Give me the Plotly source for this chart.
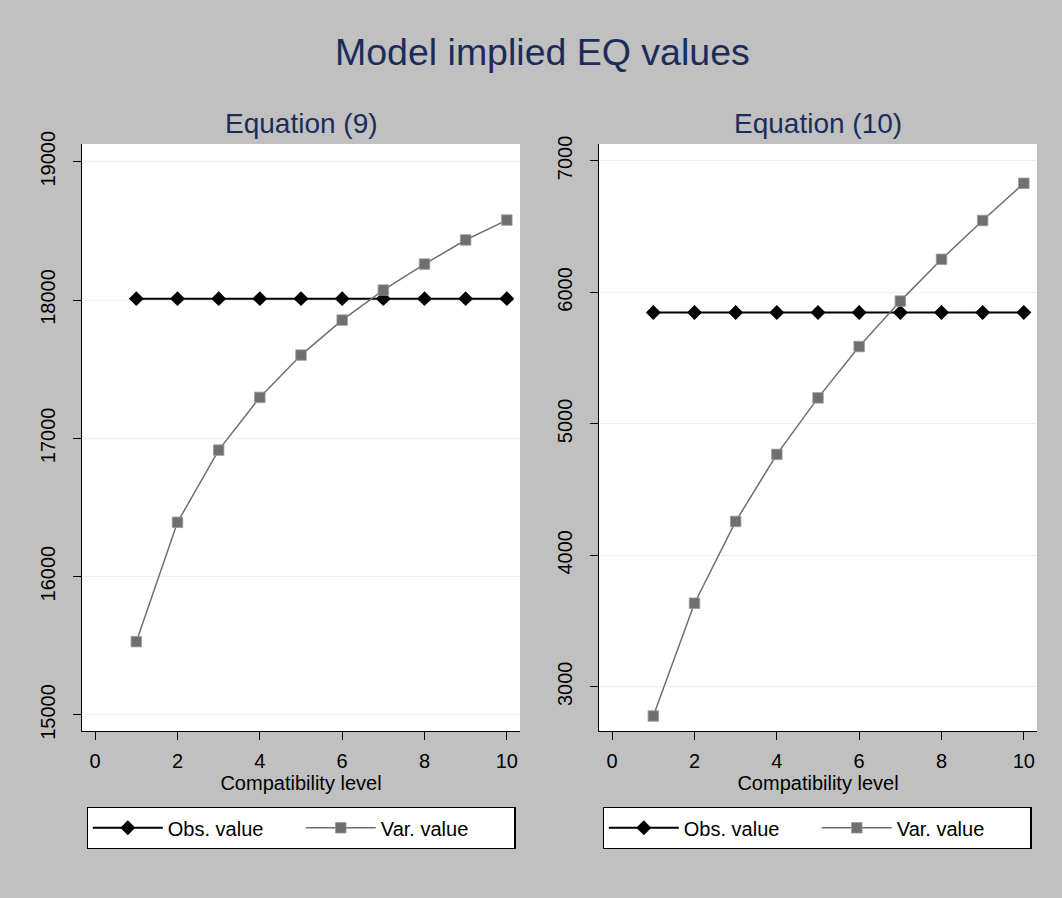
import plotly.graph_objects as go

# ---- data ----
levels = [1, 2, 3, 4, 5, 6, 7, 8, 9, 10]
obs_eq9 = [18010] * 10
var_eq9 = [15530, 16393, 16915, 17296, 17602, 17855, 18072, 18260, 18434, 18578]
obs_eq10 = [5847] * 10
var_eq10 = [2778, 3636, 4258, 4768, 5198, 5588, 5934, 6252, 6547, 6830]
x_ticks = [0, 2, 4, 6, 8, 10]
y_ticks_eq9 = [15000, 16000, 17000, 18000, 19000]
y_ticks_eq10 = [3000, 4000, 5000, 6000, 7000]
main_title = "Model implied EQ values"
sub_titles = ["Equation (9)", "Equation (10)"]
x_title = "Compatibility level"
legend_names = ["Obs. value", "Var. value"]

W, H = 1062, 898
FONT = "Liberation Sans, Arial, sans-serif"
NAVY = "#1c2c5a"
BG = "#c0c0c0"
GRID = "#e9f1f3"
VAR_C = "#6f6f6f"

def px(v):
    return v / W

def py(v):
    return 1 - v / H

fig = go.Figure()

panels = [
    dict(obs=obs_eq9, var=var_eq9, xa="x", ya="y", leg="legend"),
    dict(obs=obs_eq10, var=var_eq10, xa="x2", ya="y2", leg="legend2"),
]
for p in panels:
    fig.add_trace(go.Scatter(
        x=levels, y=p["obs"], xaxis=p["xa"], yaxis=p["ya"], mode="lines+markers",
        name=legend_names[0], legend=p["leg"],
        line=dict(color="black", width=2),
        marker=dict(symbol="diamond", size=11.5, color="black", line=dict(width=0)),
    ))
    fig.add_trace(go.Scatter(
        x=levels, y=p["var"], xaxis=p["xa"], yaxis=p["ya"], mode="lines+markers",
        name=legend_names[1], legend=p["leg"],
        line=dict(color=VAR_C, width=1.5),
        marker=dict(symbol="square", size=10.5, color=VAR_C, line=dict(width=0.8, color="#9a9a9a")),
    ))

xdom_l = [px(82), px(520)]
xdom_r = [px(599), px(1037)]
ydom = [py(731), py(144)]

axis_common = dict(
    showline=True, linecolor="black", linewidth=1.3, ticks="outside", ticklen=8,
    tickcolor="black", tickwidth=1.3, tickfont=dict(family=FONT, size=20, color="black"),
    zeroline=False, automargin=False,
)

x_common = dict(axis_common, range=[-0.32, 10.32], tickvals=x_ticks, showgrid=False,
                title=dict(text=x_title, font=dict(family=FONT, size=20, color="black"), standoff=2),
                ticklabelstandoff=4)
y_common = dict(axis_common, showgrid=True, gridcolor=GRID, gridwidth=1.2, tickangle=-90,
                ticklabelstandoff=10, tickformat="d")

legend_common = dict(orientation="h", xanchor="center", y=py(807), yanchor="top",
                     bgcolor="white", bordercolor="black", borderwidth=1.3,
                     font=dict(family=FONT, size=20, color="black"),
                     entrywidth=128, itemwidth=70)

fig.update_layout(
    width=W, height=H,
    margin=dict(l=0, r=0, t=0, b=0),
    paper_bgcolor=BG, plot_bgcolor="white",
    showlegend=True,
    xaxis=dict(x_common, domain=xdom_l, anchor="y"),
    yaxis=dict(y_common, domain=ydom, anchor="x", range=[14884, 19128], tickvals=y_ticks_eq9),
    xaxis2=dict(x_common, domain=xdom_r, anchor="y2"),
    yaxis2=dict(y_common, domain=ydom, anchor="x2", range=[2664, 7129], tickvals=y_ticks_eq10),
    legend=dict(legend_common, x=px(301)),
    legend2=dict(legend_common, x=px(817)),
    annotations=[
        dict(text=main_title, x=px(542), y=py(52), xref="paper", yref="paper",
             xanchor="center", yanchor="middle", showarrow=False,
             font=dict(family=FONT, size=37.5, color=NAVY)),
        dict(text=sub_titles[0], x=px(301), y=py(123), xref="paper", yref="paper",
             xanchor="center", yanchor="middle", showarrow=False,
             font=dict(family=FONT, size=28, color=NAVY)),
        dict(text=sub_titles[1], x=px(818), y=py(123), xref="paper", yref="paper",
             xanchor="center", yanchor="middle", showarrow=False,
             font=dict(family=FONT, size=28, color=NAVY)),
    ],
)

fig.write_html("out.html", config={"displayModeBar": False},
               post_script="document.body.style.margin='0px';document.body.style.overflow='hidden';")
